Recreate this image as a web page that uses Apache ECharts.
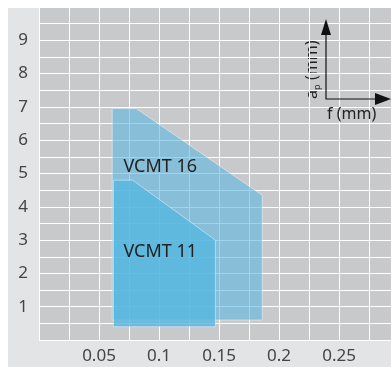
<!DOCTYPE html>
<html lang="en">

<head>
    <meta charset="UTF-8">
    <title>VCMT</title>
    <script src="https://cdn.jsdelivr.net/npm/echarts@6/dist/echarts.min.js"></script>
    <style>
        html, body { margin: 0; padding: 0; background: #fff; }
        #chart { width: 391px; height: 367px; }
    </style>
</head>

<body>
    <div id="chart"></div>
</body>
<script>
    // outline of each area: feed f (mm) and depth of cut ap (mm)
    var vcmt16F = [0.061, 0.061, 0.081, 0.186, 0.186];
    var vcmt16Ap = [0.6, 6.95, 6.95, 4.35, 0.6];
    var vcmt11F = [0.062, 0.062, 0.078, 0.147, 0.147];
    var vcmt11Ap = [0.4, 4.8, 4.8, 3.0, 0.4];

    var labelNames = ['VCMT 16', 'VCMT 11'];
    var labelF = [0.101, 0.101];
    var labelAp = [5.2, 2.65];

    var xTickLabels = [0.05, 0.1, 0.15, 0.2, 0.25];
    var yTickLabels = [1, 2, 3, 4, 5, 6, 7, 8, 9];

    var font = '"Noto Sans", sans-serif';

    function pairs(xs, ys) {
        return xs.map(function (x, i) { return [x, ys[i]]; });
    }

    function inList(list, v) {
        for (var i = 0; i < list.length; i++) {
            if (Math.abs(list[i] - v) < 1e-6) return true;
        }
        return false;
    }

    function areaSeries(name, xs, ys, fill) {
        var pts = pairs(xs, ys);
        return {
            name: name,
            type: 'custom',
            data: pts,
            renderItem: function (params, api) {
                if (params.dataIndex !== 0) return;
                return {
                    type: 'polygon',
                    shape: { points: pts.map(function (p) { return api.coord(p); }) },
                    style: {
                        fill: fill,
                        stroke: 'rgba(255,255,255,0.45)',
                        lineWidth: 1
                    }
                };
            }
        };
    }

    var chart = echarts.init(document.getElementById('chart'));

    var option = {
        backgroundColor: '#fff',
        animation: false,
        grid: {
            left: 39,
            right: 0,
            top: 7,
            bottom: 27,
            show: true,
            backgroundColor: '#c8c9cb',
            borderWidth: 0
        },
        xAxis: {
            type: 'value',
            min: 0,
            max: 0.2933,
            interval: 0.025,
            axisLine: { show: false },
            axisTick: { show: false },
            splitLine: { lineStyle: { color: '#fff', width: 1 } },
            axisLabel: {
                margin: 8,
                fontSize: 17,
                fontFamily: font,
                color: '#444',
                showMaxLabel: false,
                formatter: function (v) {
                    return inList(xTickLabels, v) ? String(+v.toFixed(3)) : '';
                }
            }
        },
        yAxis: {
            type: 'value',
            min: 0,
            max: 10,
            interval: 0.5,
            axisLine: { show: false },
            axisTick: { show: false },
            splitLine: { lineStyle: { color: '#fff', width: 1 } },
            axisLabel: {
                margin: 11,
                fontSize: 17,
                fontFamily: font,
                color: '#444',
                formatter: function (v) {
                    return inList(yTickLabels, v) ? String(v) : '';
                }
            }
        },
        graphic: [
            // light panel behind the plot
            {
                type: 'rect',
                z: -10,
                silent: true,
                shape: { x: 8, y: 8, width: 383, height: 359 },
                style: { fill: '#e3e4e6' }
            },
            // axis legend icon
            {
                type: 'polyline',
                z: 100,
                shape: { points: [[326, 30], [326, 99], [378, 99]] },
                style: { stroke: '#111', lineWidth: 1.2, fill: null }
            },
            {
                type: 'polygon',
                z: 100,
                shape: { points: [[321, 35], [331, 35], [326, 19]] },
                style: { fill: '#111' }
            },
            {
                type: 'polygon',
                z: 100,
                shape: { points: [[375, 93], [375, 105], [391, 99]] },
                style: { fill: '#111' }
            },
            {
                type: 'text',
                z: 100,
                x: 327,
                y: 106,
                style: { text: 'f (mm)', font: '16px ' + font, fill: '#222' }
            },
            {
                type: 'group',
                z: 100,
                x: 304,
                y: 99,
                rotation: Math.PI / 2,
                children: [
                    { type: 'text', x: 0, y: 0, style: { text: 'a', font: '16px ' + font, fill: '#222' } },
                    { type: 'text', x: 9, y: 9, style: { text: 'p', font: '9px ' + font, fill: '#222' } },
                    { type: 'text', x: 19, y: 0, style: { text: '(mm)', font: '16px ' + font, fill: '#222' } }
                ]
            }
        ],
        series: [
            areaSeries('VCMT 16', vcmt16F, vcmt16Ap, 'rgba(93,184,225,0.6)'),
            areaSeries('VCMT 11', vcmt11F, vcmt11Ap, 'rgba(85,182,224,0.8)'),
            {
                type: 'custom',
                data: labelNames.map(function (n, i) { return [labelF[i], labelAp[i], n]; }),
                renderItem: function (params, api) {
                    var p = api.coord([api.value(0), api.value(1)]);
                    return {
                        type: 'text',
                        x: p[0],
                        y: p[1],
                        style: {
                            text: labelNames[params.dataIndex],
                            font: '18px ' + font,
                            fill: '#222',
                            align: 'center',
                            verticalAlign: 'middle'
                        }
                    };
                }
            }
        ]
    };

    chart.setOption(option);
</script>

</html>
